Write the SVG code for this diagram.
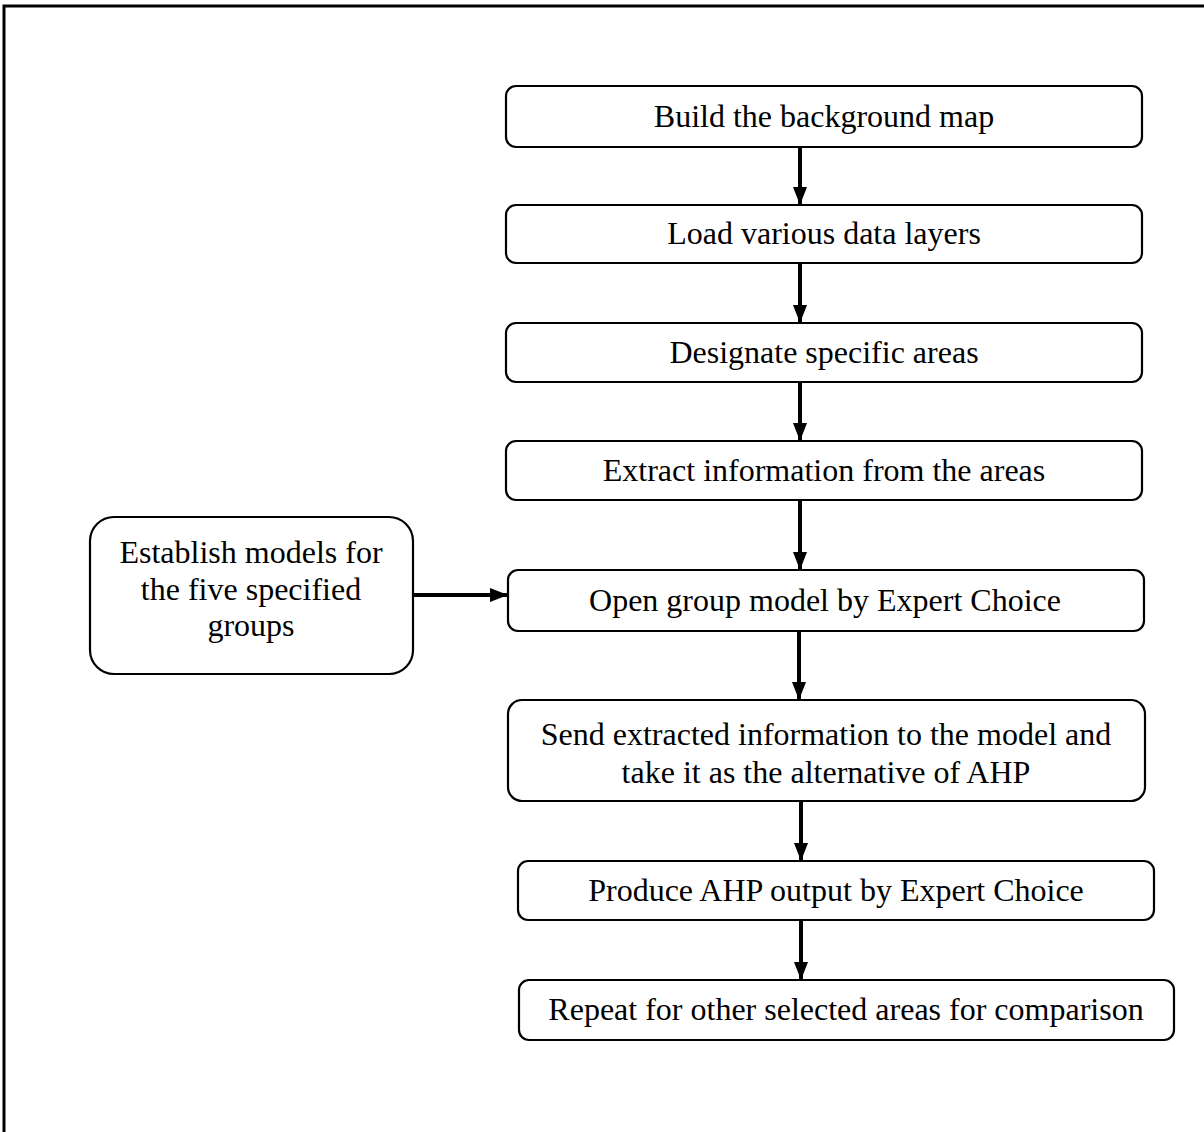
<svg xmlns="http://www.w3.org/2000/svg" width="1204" height="1132" viewBox="0 0 1204 1132">
<defs>
<style>
.box{fill:#fff;stroke:#000;stroke-width:2.2}
.t{font-family:"Liberation Serif","Times New Roman",serif;font-size:32px;fill:#000;text-anchor:middle}
.c{stroke:#000;stroke-width:4;fill:none;marker-end:url(#ah)}
.frame{stroke:#000;stroke-width:3;fill:none}
</style>
<marker id="ah" viewBox="0 0 18 14" refX="17" refY="7" markerWidth="18" markerHeight="14" markerUnits="userSpaceOnUse" orient="auto">
<path d="M0,0 L18,7 L0,14 Z" fill="#000"/>
</marker>
</defs>
<rect width="1204" height="1132" fill="#fff"/>
<path class="frame" d="M4,1132 V6 H1204"/>
<g id="connectors">
<line class="c" x1="800" y1="148" x2="800" y2="204"/>
<line class="c" x1="800" y1="264" x2="800" y2="322"/>
<line class="c" x1="800" y1="383" x2="800" y2="440"/>
<line class="c" x1="800" y1="501" x2="800" y2="569"/>
<line class="c" x1="799" y1="632" x2="799" y2="699"/>
<line class="c" x1="801" y1="802" x2="801" y2="860"/>
<line class="c" x1="801" y1="921" x2="801" y2="979"/>
<line class="c" x1="414" y1="595" x2="507" y2="595"/>
</g>
<g id="n1"><rect class="box" x="506" y="86" width="636" height="61" rx="10"/><text class="t" x="824" y="127">Build the background map</text></g>
<g id="n2"><rect class="box" x="506" y="205" width="636" height="58" rx="10"/><text class="t" x="824" y="244">Load various data layers</text></g>
<g id="n3"><rect class="box" x="506" y="323" width="636" height="59" rx="10"/><text class="t" x="824" y="363">Designate specific areas</text></g>
<g id="n4"><rect class="box" x="506" y="441" width="636" height="59" rx="10"/><text class="t" x="824" y="481">Extract information from the areas</text></g>
<g id="n5"><rect class="box" x="508" y="570" width="636" height="61" rx="10"/><text class="t" x="825" y="611">Open group model by Expert Choice</text></g>
<g id="n6"><rect class="box" x="508" y="700" width="637" height="101" rx="14"/><text class="t" x="826" y="745">Send extracted information to the model and</text><text class="t" x="826" y="783">take it as the alternative of AHP</text></g>
<g id="n7"><rect class="box" x="518" y="861" width="636" height="59" rx="10"/><text class="t" x="836" y="901">Produce AHP output by Expert Choice</text></g>
<g id="n8"><rect class="box" x="519" y="980" width="655" height="60" rx="10"/><text class="t" x="846" y="1020">Repeat for other selected areas for comparison</text></g>
<g id="n9"><rect class="box" x="90" y="517" width="323" height="157" rx="24"/><text class="t" x="251" y="563">Establish models for</text><text class="t" x="251" y="600">the five specified</text><text class="t" x="251" y="636">groups</text></g>
</svg>
